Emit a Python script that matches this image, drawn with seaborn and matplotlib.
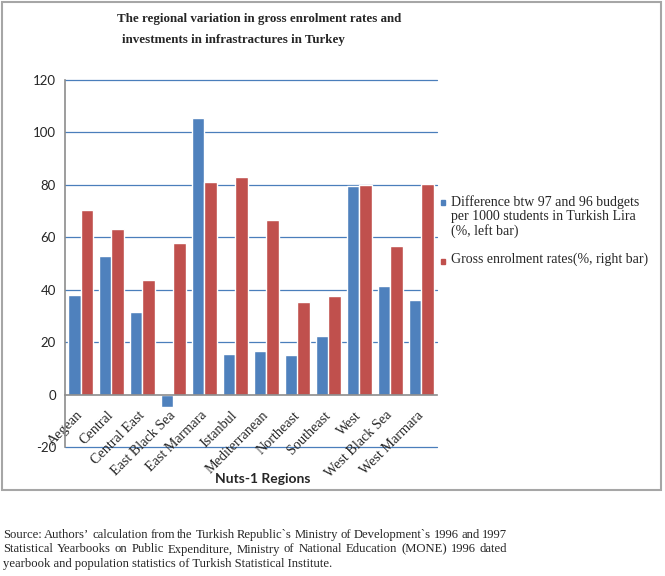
import numpy as np
import pandas as pd
import matplotlib
matplotlib.use("Agg")
import matplotlib.pyplot as plt
from matplotlib.patches import Rectangle
import seaborn as sns

# data
regions = ["Aegean", "Central", "Central East", "East Black Sea", "East Marmara",
           "Istanbul", "Mediterranean", "Northeast", "Southeast", "West",
           "West Black Sea", "West Marmara"]
budget_diff = [37.8, 52.8, 31.5, -4.8, 105.4, 15.6, 16.5, 15.2, 22.2, 79.7, 41.5, 36.1]
enrolment = [70.5, 63.0, 43.7, 58.0, 80.9, 83.0, 66.5, 35.3, 37.5, 80.0, 56.7, 80.4]
series_names = ["Difference btw 97 and 96 budgets\nper 1000 students in Turkish Lira\n(%, left bar)",
                "Gross enrolment rates(%, right bar)"]
y_ticks = [-20, 0, 20, 40, 60, 80, 100, 120]

df = pd.DataFrame({
    "region": regions * 2,
    "value": budget_diff + enrolment,
    "series": [series_names[0]] * len(regions) + [series_names[1]] * len(regions),
})

sns.set_theme(style="white")
serif = ["Liberation Serif", "DejaVu Serif"]
sans = ["Lato", "DejaVu Sans"]
plt.rcParams["font.family"] = serif

BLUE = "#4F81BD"
RED = "#C0504D"
GRID = "#4A7EBB"
AXIS = "#8C8C8C"
colors = [BLUE, RED]

fig = plt.figure(figsize=(6.65, 5.76), dpi=100)
W, H = 665, 576
ax = fig.add_axes([65 / W, 1 - 447 / H, (437 - 65) / W, (447 - 80) / H])

sns.barplot(data=df, x="region", y="value", hue="series", palette=colors,
            width=0.78, saturation=1, ax=ax, legend=False)

# spines first: moving a spine resets the tick objects
for s in ["top", "right"]:
    ax.spines[s].set_visible(False)
ax.spines["bottom"].set_position(("data", 0))
for s in ["bottom", "left"]:
    ax.spines[s].set_color(AXIS)
    ax.spines[s].set_linewidth(1.2)

ax.set_ylim(-20, 120)
ax.set_xlim(-0.5, len(regions) - 0.5)
ax.set_yticks(y_ticks)
ax.set_yticklabels([str(t) for t in y_ticks], family=sans, fontsize=9.5)
ax.tick_params(axis="y", length=0, pad=6.5)
ax.tick_params(axis="x", length=0, pad=13.5)
ax.set_xticks(range(len(regions)))
ax.set_xticklabels(regions, rotation=45, ha="right", va="center",
                   rotation_mode="anchor", family=serif, fontsize=10.2)

for t in y_ticks:
    if t != 0:
        ax.axhline(t, color=GRID, lw=0.9, zorder=0, clip_on=False)

ax.set_ylabel("")
ax.set_xlabel("Nuts-1 Regions", family=sans, fontweight="bold", fontsize=10)
ax.xaxis.set_label_coords((263 - 65) / (437 - 65), -(473 - 447) / (447 - 80))

# legend: small squares next to the first line of each entry
legend_rows = [203, 261]
for name, c, yrow in zip(series_names, colors, legend_rows):
    fig.patches.append(Rectangle((440.5 / W, 1 - (yrow + 2.5) / H), 5 / W, 5 / H,
                                 transform=fig.transFigure, color=c))
    fig.text(451 / W, 1 - (yrow - 8) / H, name, family=serif, fontsize=10,
             va="top", ha="left", linespacing=1.12)

fig.text(117 / W, 1 - 19 / H, "The regional variation in gross enrolment rates and",
         family=serif, fontweight="bold", fontsize=9.4, va="center", ha="left")
fig.text(122 / W, 1 - 40 / H, "investments in infrastractures in Turkey",
         family=serif, fontweight="bold", fontsize=9.4, va="center", ha="left")

fig.patches.append(Rectangle((2 / W, 1 - 490 / H), 659 / W, 488 / H,
                             transform=fig.transFigure, fill=False,
                             edgecolor="#A6A6A6", lw=1.5))

# source note, first two lines justified to the same width
source = ["Source: Authors\u2019 calculation from the Turkish Republic`s Ministry of Development`s 1996 and 1997",
          "Statistical Yearbooks on Public Expenditure, Ministry of National Education (MONE) 1996 dated",
          "yearbook and population statistics of Turkish Statistical Institute."]
renderer = fig.canvas.get_renderer()
x0, x1 = 3, 507
for i, line in enumerate(source):
    ypix = 535 + 14.5 * i
    if i == len(source) - 1:
        fig.text(x0 / W, 1 - ypix / H, line, family=serif, fontsize=9.1,
                 va="center", ha="left")
        continue
    words = line.split(" ")
    tmp = [fig.text(0, 0, w, family=serif, fontsize=9.1) for w in words]
    widths = [t.get_window_extent(renderer).width for t in tmp]
    for t in tmp:
        t.remove()
    gap = (x1 - x0 - sum(widths)) / (len(words) - 1)
    x = x0
    for w, wd in zip(words, widths):
        fig.text(x / W, 1 - ypix / H, w, family=serif, fontsize=9.1,
                 va="center", ha="left")
        x += wd + gap

fig.savefig("out.png", dpi=100)
